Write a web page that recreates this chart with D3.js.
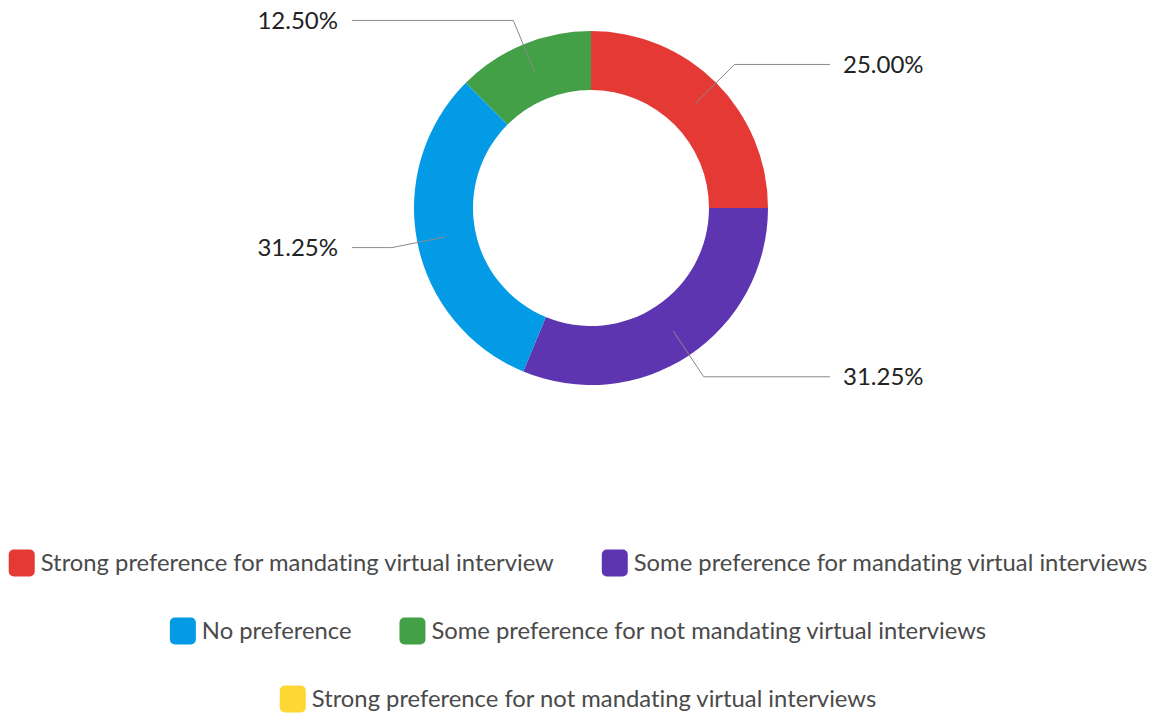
<!DOCTYPE html>
<html>
<head>
<meta charset="utf-8">
<script src="https://cdn.jsdelivr.net/npm/d3@7"></script>
<style>
  html, body { margin: 0; padding: 0; background: #fff; }
  svg { display: block; }
  text { font-variant-ligatures: none; font-feature-settings: "liga" 0; }
</style>
</head>
<body>
<svg id="chart" width="1151" height="715"></svg>
<script>
// Survey response categories and their shares (percent)
const categories = [
  "Strong preference for mandating virtual interview",
  "Some preference for mandating virtual interviews",
  "No preference",
  "Some preference for not mandating virtual interviews",
  "Strong preference for not mandating virtual interviews"
];
const shares = [25.00, 31.25, 31.25, 12.50, 0.00];
const colors = ["#E53935", "#5E35B1", "#039BE5", "#43A047", "#FDD835"];

const W = 1151, H = 715;
const cx = 591, cy = 208;
const outerR = 177, innerR = 118;
const labelFont = "Lato, 'Liberation Sans', sans-serif";

const svg = d3.select("#chart");
const data = categories.map((c, i) => ({ name: c, value: shares[i], color: colors[i] }));

const pie = d3.pie().value(d => d.value).sort(null);
const arc = d3.arc().innerRadius(innerR).outerRadius(outerR);
const arcs = pie(data);

const g = svg.append("g").attr("transform", `translate(${cx},${cy})`);

g.selectAll("path.slice")
  .data(arcs)
  .join("path")
  .attr("class", "slice")
  .attr("d", arc)
  .attr("fill", d => d.data.color);

// Leader lines and value labels
const startArc = d3.arc().innerRadius(148).outerRadius(148);
const elbowArc = d3.arc().innerRadius(203).outerRadius(203);
const labelX = 239;

const shown = arcs.filter(d => d.data.value > 0);
shown.forEach(d => {
  const mid = (d.startAngle + d.endAngle) / 2;
  const right = Math.sin(mid) >= 0;
  const p0 = startArc.centroid(d);
  const p1 = elbowArc.centroid(d);
  const p2 = [right ? labelX : -labelX, p1[1]];
  g.append("polyline")
    .attr("points", [p0, p1, p2].map(p => p.join(",")).join(" "))
    .attr("fill", "none")
    .attr("stroke", "#8a8a8a")
    .attr("stroke-width", 1);
  g.append("text")
    .attr("x", p2[0] + (right ? 13 : -14))
    .attr("y", p2[1])
    .attr("dy", "0.36em")
    .attr("text-anchor", right ? "start" : "end")
    .attr("font-family", labelFont)
    .attr("font-size", 24)
    .attr("fill", "#222")
    .text(d3.format(".2f")(d.data.value) + "%");
});

// Legend: items flow into centred rows
const legend = svg.append("g").attr("font-family", labelFont).attr("font-size", 23.8);
const sw = 26, gapText = 6, gapItem = 48, rowH = 68, firstRowY = 563, maxW = 1148;

const items = data.map(d => {
  const it = legend.append("g");
  it.append("rect")
    .attr("width", sw).attr("height", 27)
    .attr("y", -13.5)
    .attr("rx", 5).attr("ry", 5)
    .attr("fill", d.color);
  const t = it.append("text")
    .attr("x", sw + gapText)
    .attr("dy", "0.35em")
    .attr("fill", "#4a4a4a")
    .text(d.name);
  const w = sw + gapText + t.node().getComputedTextLength();
  return { node: it, w };
});

const rows = [];
let cur = [], curW = 0;
items.forEach(it => {
  const add = cur.length ? gapItem + it.w : it.w;
  if (cur.length && curW + add > maxW) {
    rows.push({ items: cur, w: curW });
    cur = [it]; curW = it.w;
  } else {
    cur.push(it); curW += add;
  }
});
if (cur.length) rows.push({ items: cur, w: curW });

rows.forEach((r, ri) => {
  let x = 578 - r.w / 2;
  const y = firstRowY + ri * rowH;
  r.items.forEach(it => {
    it.node.attr("transform", `translate(${x},${y})`);
    x += it.w + gapItem;
  });
});
</script>
</body>
</html>
